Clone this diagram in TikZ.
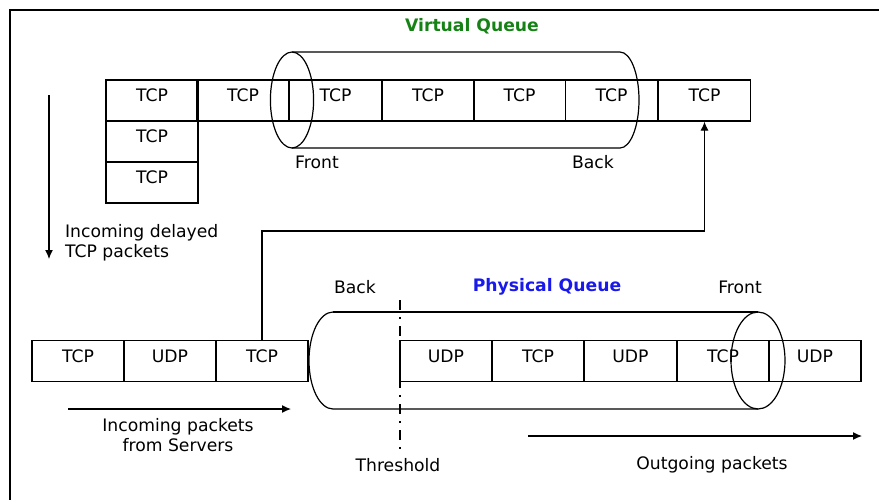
\documentclass[tikz,border=0pt]{standalone}
\usepackage{fontspec}
\setmainfont{DejaVu Sans}
\usetikzlibrary{arrows.meta}
\definecolor{vqgreen}{RGB}{22,130,22}
\definecolor{pqblue}{RGB}{25,25,235}

\begin{document}
\begin{tikzpicture}[
x=0.5pt,y=-0.5pt,
every node/.style={font=\fontsize{8.6}{10}\selectfont},
pkt/.style={draw,line width=0.6pt,minimum width=46pt,minimum height=20.5pt,inner sep=0pt,text height=6pt,text depth=5pt},
title/.style={font=\fontsize{8.6}{10}\selectfont\bfseries},
tube/.style={line width=0.6pt},
arrow/.style={-{Latex[length=4.5pt,width=4pt]},line width=0.6pt} ]

\useasboundingbox (0,0) rectangle (879,500);
\draw[line width=1pt] (879,10) -- (10,10) -- (10,500);

\node[title,text=vqgreen] (vq) at (472,26) {Virtual Queue};

\draw[tube] (292,100) ellipse (10.8pt and 24pt);
\draw[tube] (292,52) -- (620,52) arc (90:-90:9.5pt and 24pt) -- (292,148);

\node[pkt] (t1) at (152,100.5) {TCP};
\node[pkt] (t2) at (243,100.5) {TCP};
\node[pkt] (t3) at (335.5,100.5) {TCP};
\node[pkt] (t4) at (428,100.5) {TCP};
\node[pkt] (t5) at (519.5,100.5) {TCP};
\node[pkt] (t6) at (611.5,100.5) {TCP};
\node[pkt] (t7) at (704.5,100.5) {TCP};
\node[pkt] (s1) at (152,141.5) {TCP};
\node[pkt] (s2) at (152,182.5) {TCP};

\node (vfront) at (317,162) {Front};
\node (vback) at (593,162) {Back};

\coordinate (din) at (49,95);
\coordinate (dout) at (49,259);
\draw[arrow] (din) -- (dout);
\node[anchor=west,align=left] (delayed) at (58,243) {Incoming delayed\\TCP packets};

\node[title,text=pqblue] (pq) at (547,287) {Physical Queue};
\node (pback) at (355,287) {Back};
\node (pfront) at (740,287) {Front};

\draw[tube] (333,312) arc (90:270:12pt and 24.25pt) -- (758,409);
\draw[tube] (333,312) -- (758,312);
\draw[tube] (758,360.5) ellipse (13.5pt and 24.25pt);

\node[pkt] (b1) at (78,361) {TCP};
\node[pkt] (b2) at (170,361) {UDP};
\node[pkt] (b3) at (262,361) {TCP};
\node[pkt] (p1) at (446,361) {UDP};
\node[pkt] (p2) at (538,361) {TCP};
\node[pkt] (p3) at (630.5,361) {UDP};
\node[pkt] (p4) at (723,361) {TCP};
\node[pkt] (p5) at (815,361) {UDP};

\coordinate (thtop) at (400,300);
\node (thr) at (398,465) {Threshold};
\draw[line width=1.1pt,dash pattern=on 5pt off 3.5pt on 1pt off 3.5pt] (thtop) -- (thr.north -| thtop);

\coordinate (bend) at (0,231);
\draw[arrow] (b3.north) -- (b3.north |- bend) -| (t7.south);

\coordinate (inl) at (68,409);
\coordinate (inr) at (291,409);
\draw[arrow] (inl) -- (inr);
\node[align=center] (incoming) at (178,435) {Incoming packets\\from Servers};

\coordinate (outl) at (528,436);
\coordinate (outr) at (862,436);
\draw[arrow] (outl) -- (outr);
\node (outgoing) at (712,465) {Outgoing packets};

\end{tikzpicture}
\end{document}
